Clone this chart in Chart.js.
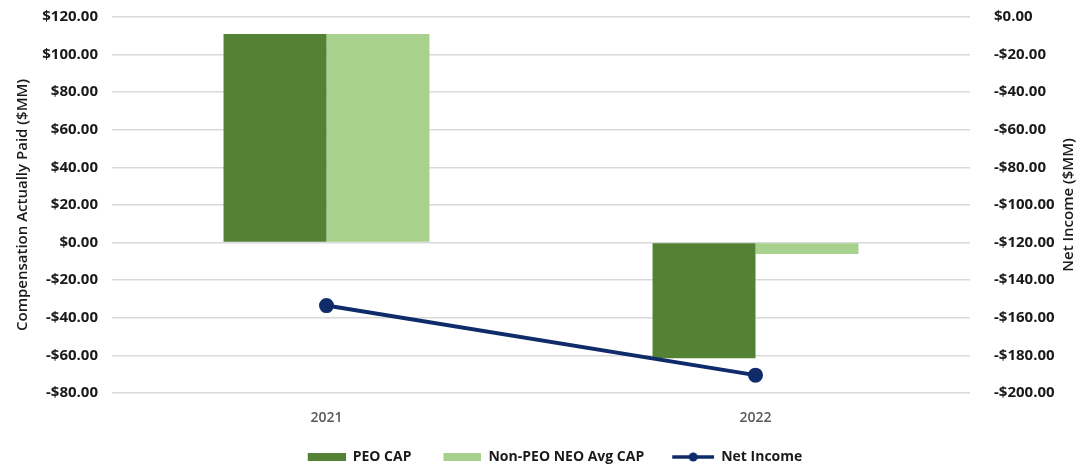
<!DOCTYPE html>
<html>
<head>
<meta charset="utf-8">
<script src="https://cdn.jsdelivr.net/npm/chart.js@4/dist/chart.umd.min.js"></script>
<style>
  html, body { margin: 0; padding: 0; background: #fff; }
  #wrap { width: 1080px; height: 466px; }
</style>
</head>
<body>
<div id="wrap"><canvas id="cap"></canvas></div>
<script>
// dati
const years = ['2021', '2022'];
const peoCap = [111, -61.5];
const nonPeoCap = [111, -6];
const netIncome = [-153.5, -190.5];

const leftTicks = { min: -80, max: 120, step: 20 };
const rightTicks = { min: -200, max: 0, step: 20 };

const FONT = 'Open Sans';
const money = v => (v < 0 ? '-$' : '$') + Math.abs(v).toFixed(2);

// icone legenda: larghezza fissa, spazio vuoto a sinistra = distanza tra le voci
const ICON_W = 68;
function makeIcon(kind, color) {
  const c = document.createElement('canvas');
  c.width = ICON_W; c.height = 12;
  const g = c.getContext('2d');
  if (kind === 'bar') {
    g.fillStyle = color;
    g.fillRect(ICON_W - 38, 2, 38, 8);
  } else {
    const x0 = ICON_W - 42;
    g.strokeStyle = color;
    g.lineWidth = 3.5;
    g.beginPath(); g.moveTo(x0, 6); g.lineTo(ICON_W, 6); g.stroke();
    g.fillStyle = color;
    g.beginPath(); g.arc(x0 + 21, 6, 4.5, 0, Math.PI * 2); g.fill();
  }
  return c;
}
const legendIcons = [
  makeIcon('bar', '#548235'),
  makeIcon('bar', '#a9d18e'),
  makeIcon('line', '#0f2b69')
];

// titolo asse destro ruotato come in Excel (dal basso verso l'alto)
const rightTitle = {
  id: 'rightTitle',
  afterDraw(chart) {
    const { ctx, chartArea } = chart;
    ctx.save();
    ctx.translate(1069, (chartArea.top + chartArea.bottom) / 2);
    ctx.rotate(-Math.PI / 2);
    ctx.font = '600 15px ' + FONT;
    ctx.fillStyle = '#1a1a1a';
    ctx.textAlign = 'center';
    ctx.textBaseline = 'middle';
    ctx.fillText('Net Income ($MM)', 0, 0);
    ctx.restore();
  }
};

// sposta la legenda piu' in basso
const legendDown = {
  id: 'legendDown',
  afterLayout(chart) {
    const l = chart.legend;
    const dy = 461 - (l.top + l.height / 2);
    l.top += dy;
    l.bottom += dy;
  }
};

const noPad = s => { s.paddingTop = 0; s.paddingBottom = 0; };

new Chart(document.getElementById('cap'), {
  type: 'bar',
  data: {
    labels: years,
    datasets: [
      {
        label: 'PEO CAP',
        data: peoCap,
        backgroundColor: '#548235',
        yAxisID: 'y',
        categoryPercentage: 0.48,
        barPercentage: 1
      },
      {
        label: 'Non-PEO NEO Avg CAP',
        data: nonPeoCap,
        backgroundColor: '#a9d18e',
        yAxisID: 'y',
        categoryPercentage: 0.48,
        barPercentage: 1
      },
      {
        type: 'line',
        label: 'Net Income',
        data: netIncome,
        borderColor: '#0f2b69',
        backgroundColor: '#0f2b69',
        borderWidth: 4,
        pointStyle: 'circle',
        pointRadius: 5.5,
        pointHoverRadius: 5.5,
        yAxisID: 'y1',
        order: -1
      }
    ]
  },
  options: {
    responsive: true,
    maintainAspectRatio: false,
    animation: false,
    layout: { padding: { top: 17, bottom: 0 } },
    scales: {
      x: {
        grid: { display: false },
        border: { display: false },
        afterFit: s => { s.height = 466 - s.chart.legend.height - 393; },
        ticks: {
          color: '#595959',
          font: { family: FONT, size: 14, weight: '600' },
          padding: 9
        }
      },
      y: {
        position: 'left',
        min: leftTicks.min,
        max: leftTicks.max,
        afterFit: s => { s.width = 112; noPad(s); },
        grid: { color: '#d9d9d9', lineWidth: 1.5, drawTicks: false },
        border: { display: false },
        title: {
          display: true,
          text: 'Compensation Actually Paid ($MM)',
          color: '#1a1a1a',
          font: { family: FONT, size: 15, weight: '600' },
          padding: { top: 14, bottom: 0 }
        },
        ticks: {
          stepSize: leftTicks.step,
          color: '#1a1a1a',
          padding: 14,
          font: { family: FONT, size: 15, weight: 'bold' },
          callback: v => money(v)
        }
      },
      y1: {
        position: 'right',
        min: rightTicks.min,
        max: rightTicks.max,
        afterFit: s => { s.width = 110; noPad(s); },
        grid: { display: false },
        border: { display: false },
        ticks: {
          stepSize: rightTicks.step,
          color: '#1a1a1a',
          padding: 16,
          font: { family: FONT, size: 15, weight: 'bold' },
          callback: v => money(v)
        }
      }
    },
    plugins: {
      legend: {
        position: 'bottom',
        labels: {
          usePointStyle: true,
          pointStyleWidth: ICON_W,
          color: '#1a1a1a',
          padding: 2,
          font: { family: FONT, size: 14, weight: 'bold' },
          sort: (a, b) => a.datasetIndex - b.datasetIndex,
          generateLabels: chart => {
            const items = Chart.defaults.plugins.legend.labels.generateLabels(chart);
            items.forEach(it => { it.pointStyle = legendIcons[it.datasetIndex]; });
            return items;
          }
        }
      },
      tooltip: { enabled: false }
    }
  },
  plugins: [rightTitle, legendDown]
});
</script>
</body>
</html>
